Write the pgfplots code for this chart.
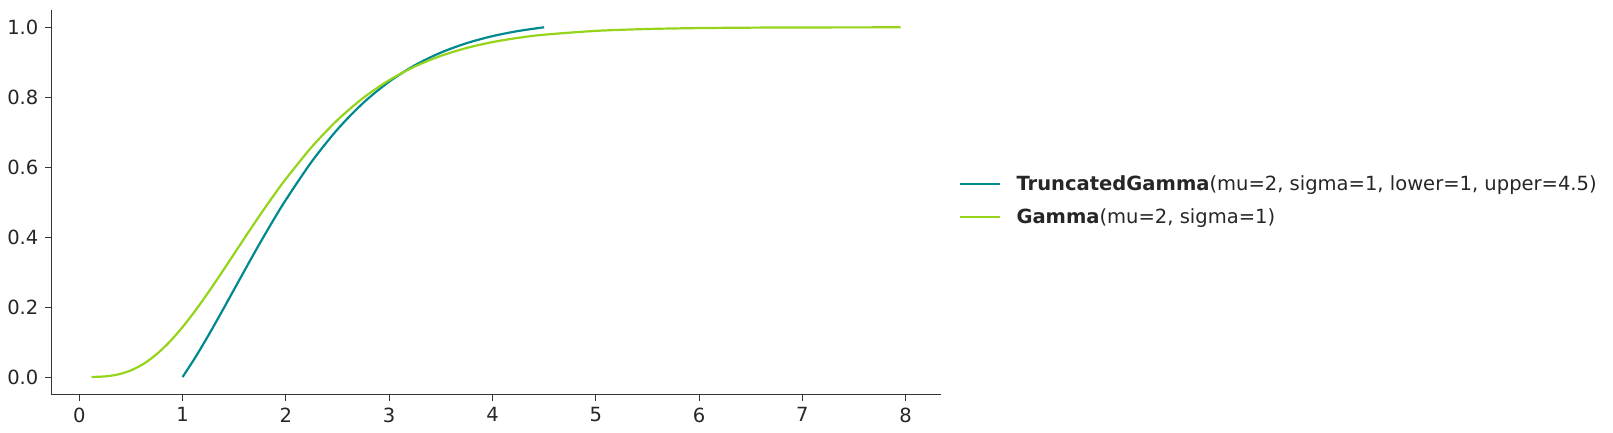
\documentclass[border=0pt]{standalone}
\usepackage{fontspec}
\setmainfont{DejaVu Sans}
\usepackage{pgfplots}
\pgfplotsset{compat=1.18}
\definecolor{tgteal}{HTML}{00898E}
\definecolor{gmgreen}{HTML}{95D41A}
\definecolor{spine}{HTML}{333333}
\definecolor{txt}{HTML}{262626}
\begin{document}
\begin{tikzpicture}
\path[use as bounding box] (-25.7bp,-19.25bp) rectangle (780.8bp,197.25bp);
\begin{axis}[
  at={(0,0)}, anchor=south west,
  scale only axis, width=444.7bp, height=192.35bp,
  xmin=-0.27, xmax=8.34, ymin=-0.05, ymax=1.05,
  axis x line*=bottom, axis y line*=left,
  axis line style={spine, line width=0.5bp},
  tick align=outside, major tick length=3bp,
  tick style={spine, line width=0.5bp},
  xtick={0,1,...,8}, ytick={0,0.2,...,1.0},
  yticklabel style={/pgf/number format/.cd, fixed, fixed zerofill, precision=1},
  /pgf/number format/assume math mode=true,
  ticklabel style={font=\fontsize{9.8}{11}\selectfont, text=txt},
  legend style={draw=none, fill=none, inner sep=0pt,
    at={(1,0.5)}, anchor=west, xshift=8.6bp, yshift=1bp,
    font=\fontsize{9.8}{11}\selectfont, text=txt,
    nodes={inner sep=0pt, text height=7.3bp, text depth=0.5bp},
    cells={anchor=west}, row sep=8.7bp},
  legend image code/.code={
    \draw[#1, line width=1.1bp] (0bp,0bp) -- (20.35bp,0bp);
    \path[draw=none, fill=none] (0bp,0bp) -- (28.5bp,0bp);},
]
\addplot[tgteal, line width=1.1bp, smooth] coordinates {
 (1,0) (1.125,0.05705) (1.25,0.11909) (1.375,0.18433) (1.5,0.25110)
 (1.625,0.31788) (1.75,0.38342) (1.875,0.44665) (2,0.50682)
 (2.25,0.61590) (2.5,0.70834) (2.75,0.78410) (3,0.84451)
 (3.25,0.89159) (3.5,0.92758) (3.75,0.95464) (4,0.97469)
 (4.25,0.98937) (4.5,1.0)};
\addlegendentry{\textbf{TruncatedGamma}(mu=2, sigma=1, lower=1, upper=4.5)}

\addplot[gmgreen, line width=1.1bp, smooth] coordinates {
 (0.12,0.0001) (0.25,0.00175) (0.375,0.00729) (0.5,0.01899)
 (0.625,0.03827) (0.75,0.06564) (0.875,0.10081) (1,0.14288)
 (1.125,0.19057) (1.25,0.24242) (1.375,0.29696) (1.5,0.35277)
 (1.625,0.40860) (1.75,0.46337) (1.875,0.51623) (2,0.56653)
 (2.25,0.65770) (2.5,0.73497) (2.75,0.79830) (3,0.84880)
 (3.25,0.88815) (3.5,0.91824) (3.75,0.94086) (4,0.95762)
 (4.25,0.96989) (4.5,0.97877) (5,0.98966) (5.5,0.99508)
 (6,0.99771) (6.5,0.99895) (7,0.99953) (7.95,0.99990)};
\addlegendentry{\textbf{Gamma}(mu=2, sigma=1)}
\end{axis}
\end{tikzpicture}
\end{document}
